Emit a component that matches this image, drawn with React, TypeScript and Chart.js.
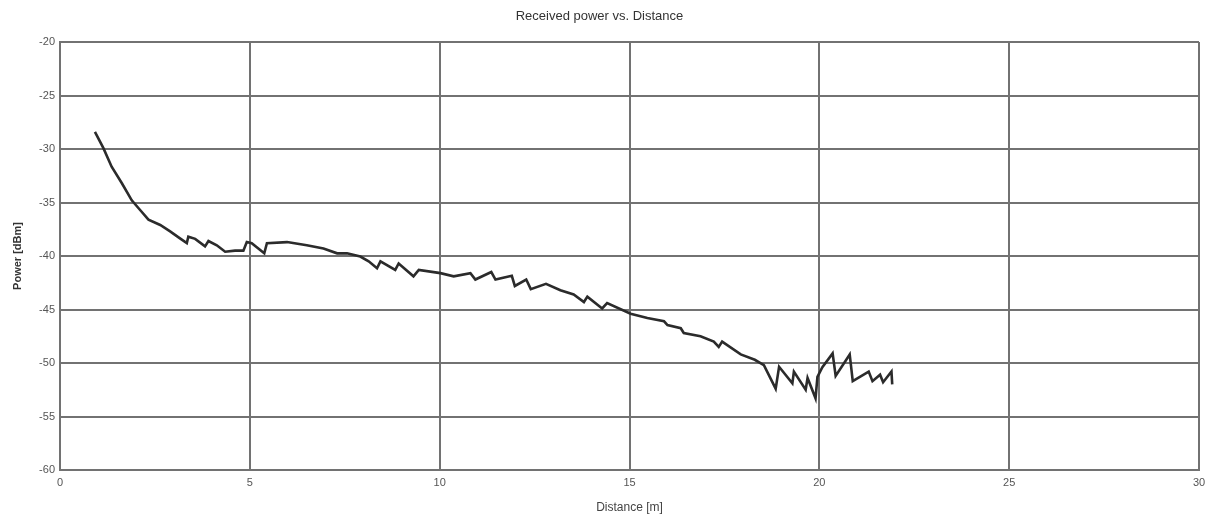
import React, { useEffect, useRef } from "react";
import { Chart, registerables } from "chart.js";

Chart.register(...registerables);

const chartTitle = "Received power vs. Distance";
const xAxisTitle = "Distance [m]";
const yAxisTitle = "Power [dBm]";

const distance = [
  0.92, 1.14, 1.36, 1.63, 1.89, 2.11, 2.33, 2.64, 2.9, 3.16, 3.34, 3.38, 3.56, 3.82, 3.91, 4.13,
  4.35, 4.61, 4.83, 4.92, 5.05, 5.38, 5.45, 5.98, 6.5, 6.94, 7.3, 7.56, 7.91, 8.13, 8.35, 8.44,
  8.83, 8.92, 9.31, 9.45, 10.02, 10.37, 10.81, 10.94, 11.36, 11.47, 11.9, 11.98, 12.28, 12.4,
  12.8, 13.18, 13.53, 13.8, 13.89, 14.28, 14.41, 15.03, 15.47, 15.91, 16.0, 16.35, 16.43, 16.87,
  17.22, 17.35, 17.44, 17.93, 18.3, 18.54, 18.85, 18.94, 19.29, 19.33, 19.64, 19.69, 19.9, 19.95,
  20.08, 20.35, 20.43, 20.8, 20.88, 21.3, 21.4, 21.6, 21.68, 21.9, 21.92,
];

const power = [
  -28.4, -29.9, -31.65, -33.2, -34.8, -35.7, -36.6, -37.1, -37.7, -38.35, -38.8, -38.2, -38.4,
  -39.1, -38.6, -39.0, -39.6, -39.5, -39.5, -38.7, -38.8, -39.75, -38.8, -38.7, -39.0, -39.3,
  -39.75, -39.75, -40.05, -40.5, -41.15, -40.5, -41.3, -40.7, -41.9, -41.3, -41.6, -41.9, -41.6,
  -42.2, -41.5, -42.2, -41.85, -42.8, -42.2, -43.1, -42.6, -43.2, -43.6, -44.3, -43.8, -44.9,
  -44.4, -45.4, -45.8, -46.1, -46.45, -46.75, -47.2, -47.5, -48.0, -48.5, -48.0, -49.2, -49.7,
  -50.2, -52.4, -50.35, -51.9, -50.8, -52.5, -51.4, -53.3, -51.3, -50.4, -49.1, -51.2, -49.2,
  -51.7, -50.8, -51.7, -51.1, -51.8, -50.8, -52.0,
];

const xMin = 0;
const xMax = 30;
const xStep = 5;
const yMin = -60;
const yMax = -20;
const yStep = 5;

export default function App() {
  const canvasRef = useRef<HTMLCanvasElement | null>(null);

  useEffect(() => {
    document.body.style.margin = "0";
    const canvas = canvasRef.current;
    if (!canvas) return;
    const gridColor = "#727272";
    const tickFont = { family: "'Liberation Sans Narrow', 'Liberation Sans', Arial, sans-serif", size: 11 };
    const chart = new Chart(canvas, {
      type: "line",
      data: {
        datasets: [
          {
            data: distance.map((d, i) => ({ x: d, y: power[i] })),
            borderColor: "#2b2b2b",
            borderWidth: 2.6,
            pointRadius: 0,
            tension: 0,
            fill: false,
          },
        ],
      },
      options: {
        animation: false,
        responsive: false,
        maintainAspectRatio: false,
        layout: { autoPadding: false, padding: { top: 0, right: 9, bottom: 0, left: 0 } },
        plugins: {
          legend: { display: false },
          tooltip: { enabled: false },
          title: {
            display: true,
            text: chartTitle,
            color: "#333",
            font: { family: "'Liberation Sans', Arial, sans-serif", size: 13, weight: "normal" },
            padding: { top: 9, bottom: 17.4 },
          },
        },
        scales: {
          x: {
            type: "linear",
            min: xMin,
            max: xMax,
            ticks: { stepSize: xStep, color: "#555", font: tickFont, padding: 6, maxRotation: 0 },
            grid: { color: gridColor, lineWidth: 2, drawTicks: false },
            border: { color: gridColor, width: 2 },
            title: {
              display: true,
              text: xAxisTitle,
              color: "#444",
              font: { family: "'Liberation Sans', Arial, sans-serif", size: 12 },
              padding: { top: 4, bottom: 4 },
            },
            afterFit: (scale: any) => {
              scale.height = 49;
              scale.paddingRight = 0;
              scale.paddingLeft = 0;
            },
          },
          y: {
            min: yMin,
            max: yMax,
            ticks: { stepSize: yStep, color: "#555", font: tickFont, padding: 5 },
            grid: { color: gridColor, lineWidth: 2, drawTicks: false },
            border: { color: gridColor, width: 2 },
            title: {
              display: true,
              text: yAxisTitle,
              color: "#333",
              font: { family: "'Liberation Sans', Arial, sans-serif", size: 11, weight: "bold" },
              padding: { top: 11, bottom: 0 },
            },
            afterFit: (scale: any) => {
              scale.width = 60;
              scale.paddingTop = 0;
              scale.paddingBottom = 0;
            },
          },
        },
      },
    });
    return () => chart.destroy();
  }, []);

  return (
    <div style={{ width: 1208, height: 519, background: "#fff" }}>
      <canvas ref={canvasRef} width={1208} height={519} style={{ display: "block" }} />
    </div>
  );
}
